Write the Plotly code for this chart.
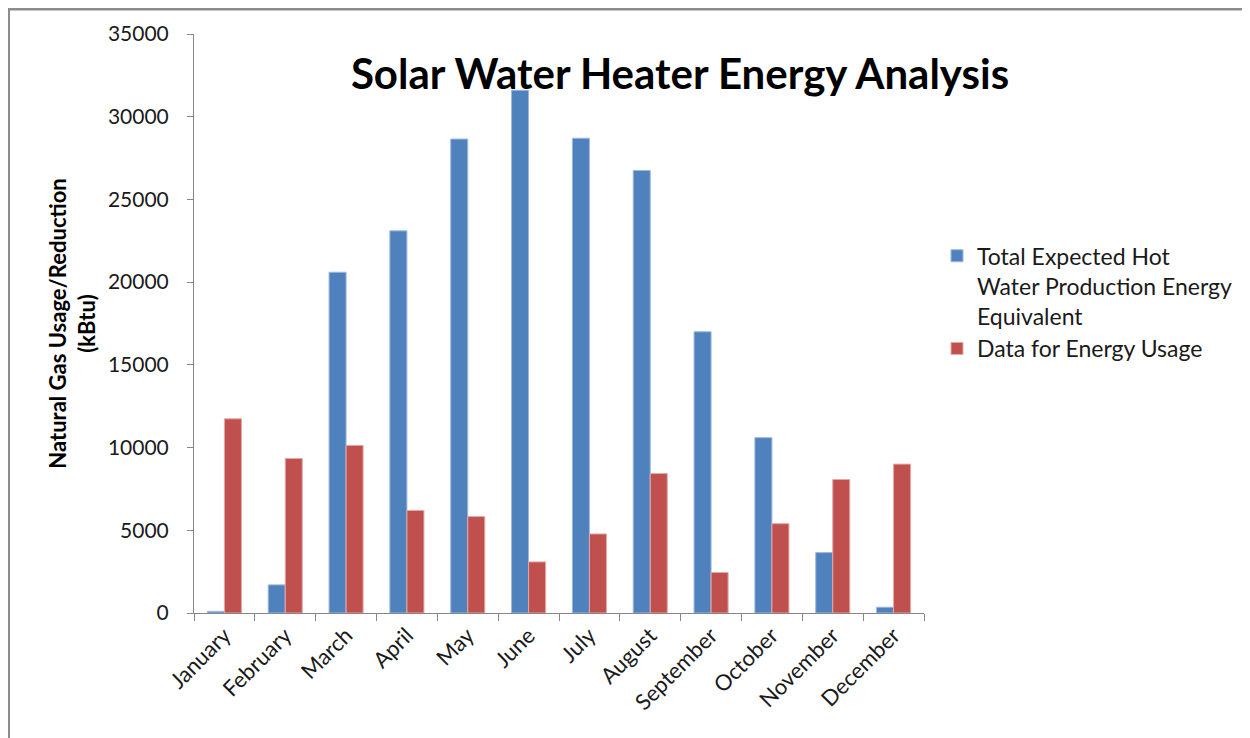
import plotly.graph_objects as go

months = ['January', 'February', 'March', 'April', 'May', 'June',
          'July', 'August', 'September', 'October', 'November', 'December']
expected_hot_water = [100, 1700, 20600, 23100, 28650, 31600,
                      28700, 26750, 17000, 10600, 3650, 350]
energy_usage = [11740, 9340, 10130, 6200, 5830, 3090,
                4780, 8430, 2450, 5400, 8070, 9000]

# the html body has an 8px margin, so work in page pixels and shift
OFF = 8
W, H = 1250 - OFF, 738 - OFF
L, R, T, B = 194 - OFF, 924 - OFF, 32 - OFF, 613 - OFF  # plot area


def px_x(p):
    return (p - OFF - L) / (R - L)


def px_y(p):
    return (B - (p - OFF)) / (B - T)


FONT = 'Lato'
AXIS = '#868686'
TXT = '#1a1a1a'

fig = go.Figure()
fig.add_trace(go.Bar(x=months, y=expected_hot_water,
                     name='Total Expected Hot<br>Water Production Energy<br>Equivalent',
                     marker=dict(color='#4F81BD', line=dict(color='#9DB9DE', width=1))))
fig.add_trace(go.Bar(x=months, y=energy_usage,
                     name='Data for Energy Usage',
                     marker=dict(color='#C0504D', line=dict(color='#E3A9A7', width=1))))

fig.update_layout(
    width=W, height=H,
    margin=dict(l=L, r=W - R, t=T, b=H - B, pad=0),
    paper_bgcolor='white', plot_bgcolor='white',
    barmode='group', bargap=0.44, bargroupgap=0,
    font=dict(family=FONT, color=TXT, size=21),
    title=dict(text='<b>Solar Water Heater Energy Analysis</b>',
               font=dict(family=FONT, size=42, color='black'),
               x=(680 - OFF) / W, xanchor='center', xref='container',
               y=1 - (60 - OFF) / H, yanchor='top', yref='container'),
    legend=dict(x=px_x(937), y=px_y(233), xanchor='left', yanchor='top',
                valign='top',
                font=dict(family=FONT, size=23, color=TXT),
                tracegroupgap=0, bgcolor='rgba(0,0,0,0)'),
    showlegend=True,
)

fig.update_xaxes(
    showline=True, linecolor=AXIS, linewidth=1,
    ticks='outside', tickson='boundaries', ticklen=7, tickcolor=AXIS,
    tickangle=-45, tickfont=dict(family=FONT, size=22, color=TXT),
    showgrid=False, zeroline=False,
)
fig.update_yaxes(
    range=[0, 35000], dtick=5000, tickformat='d',
    showline=True, linecolor=AXIS, linewidth=1,
    ticks='outside', ticklen=6, tickcolor=AXIS,
    ticklabelstandoff=14,
    tickfont=dict(family=FONT, size=21, color=TXT),
    showgrid=False, zeroline=False,
    title=dict(text='<b>Natural Gas Usage/Reduction<br>(kBtu)</b>',
               font=dict(family=FONT, size=22, color='black'), standoff=6),
)

# chart frame (grey border along top and left edges)
fig.add_shape(type='line', xref='paper', yref='paper',
              x0=px_x(8), x1=px_x(1260), y0=px_y(7), y1=px_y(7),
              line=dict(color='#8C8C8C', width=3))
fig.add_shape(type='line', xref='paper', yref='paper',
              x0=px_x(8.5), x1=px_x(8.5), y0=px_y(6), y1=px_y(750),
              line=dict(color='#8C8C8C', width=3))

fig.write_html('out.html')
